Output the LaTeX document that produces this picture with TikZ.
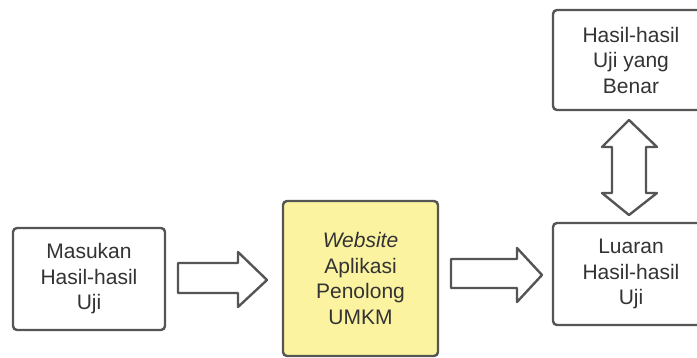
\documentclass[tikz,border=0pt]{standalone}
\usepackage{fontspec}
\setmainfont{Liberation Sans}
\definecolor{edge}{HTML}{555555}
\definecolor{ink}{HTML}{333333}
\definecolor{pale}{HTML}{FBF3A0}
\begin{document}
\begin{tikzpicture}[x=1pt,y=-1pt,
  box/.style={draw=edge, line width=2.4pt, rounded corners=4pt, fill=white,
    text=ink, align=center, inner sep=0pt,
    font=\fontsize{21}{25.5}\selectfont},
  blockarrow/.style={draw=edge, line width=2.4pt, fill=white, line join=round}]
\useasboundingbox (0,0) rectangle (697,358);

\node[box, minimum width=152pt, minimum height=102pt] (input) at (89,279)
  {Masukan\\Hasil-hasil\\Uji};
\node[box, fill=pale, minimum width=155pt, minimum height=155pt] (app) at (360.5,278.5)
  {\textit{Website}\\Aplikasi\\Penolong\\UMKM};
\node[box, minimum width=156pt, minimum height=102pt] (output) at (631,274)
  {Luaran\\Hasil-hasil\\Uji};
\node[box, minimum width=156pt, minimum height=100pt] (truth) at (631,60)
  {Hasil-hasil\\Uji yang\\Benar};

% block arrow: input -> app
\draw[blockarrow] (178,263) -- (238,263) -- (238,252) -- (267,280)
  -- (238,307) -- (238,293) -- (178,293) -- cycle;
% block arrow: app -> output
\draw[blockarrow] (451,259) -- (517,259) -- (517,248) -- (542,275)
  -- (517,302) -- (517,288) -- (451,288) -- cycle;
% double block arrow: truth <-> output
\draw[blockarrow] (629,120) -- (657,147) -- (646,147) -- (646,193) -- (657,193)
  -- (629,215) -- (602,193) -- (612,193) -- (612,147) -- (602,147) -- cycle;
\end{tikzpicture}
\end{document}
